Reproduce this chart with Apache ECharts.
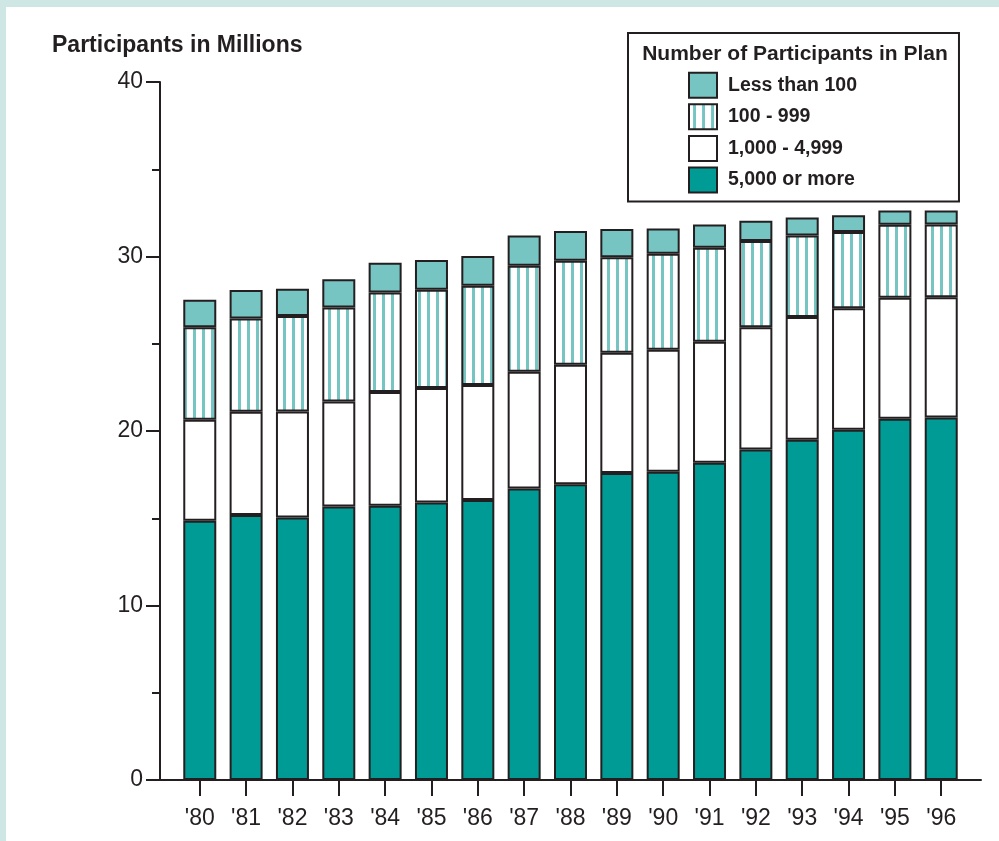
<!DOCTYPE html>
<html>
<head>
<meta charset="utf-8">
<script src="https://cdn.jsdelivr.net/npm/echarts@6/dist/echarts.min.js"></script>
<style>
html,body{margin:0;padding:0;background:#cfe7e4;}
#chart{width:999px;height:841px;}
</style>
</head>
<body>
<div id="chart"></div>
<script>
const yearLabels = ["'80","'81","'82","'83","'84","'85","'86","'87","'88","'89","'90","'91","'92","'93","'94","'95","'96"];
const seriesNames = ['Less than 100','100 - 999','1,000 - 4,999','5,000 or more'];
const large5000 = [14.85,15.19,15.04,15.67,15.71,15.90,16.04,16.70,16.95,17.60,17.66,18.18,18.94,19.50,20.07,20.70,20.78];
const mid1000 = [5.79,5.91,6.08,6.02,6.52,6.56,6.59,6.69,6.85,6.88,7.00,6.93,7.00,7.03,6.96,6.94,6.88];
const small100 = [5.30,5.35,5.47,5.39,5.71,5.64,5.70,6.08,5.96,5.47,5.50,5.39,4.95,4.68,4.37,4.18,4.18];
const under100 = [1.58,1.63,1.56,1.61,1.70,1.70,1.70,1.74,1.70,1.63,1.45,1.34,1.16,1.03,0.96,0.81,0.79];
const yTicks = [0,10,20,30,40];

const INK = '#231f20';
const DARK = '#009b94';
const LIGHT = '#76c5c2';
const FONT = "'Liberation Sans', Arial, Helvetica, sans-serif";

// vertical stripe pattern
const pc = document.createElement('canvas');
pc.width = 9; pc.height = 12;
const pctx = pc.getContext('2d');
pctx.fillStyle = '#ffffff'; pctx.fillRect(0,0,9,12);
pctx.fillStyle = LIGHT; pctx.fillRect(4,0,3,12);
const stripe = {image: pc, repeat: 'repeat'};

const chart = echarts.init(document.getElementById('chart'), null, {renderer:'canvas'});

function barSeries(name, data, color){
  return {
    name: name, type: 'bar', stack: 'total', xAxisIndex: 1, yAxisIndex: 1,
    barWidth: 33, data: data,
    itemStyle: {color: color, borderColor: INK, borderWidth: 2},
    emphasis: {disabled: true}
  };
}

chart.setOption({
  animation: false,
  backgroundColor: '#cfe7e4',
  textStyle: {fontFamily: FONT},
  graphic: [
    {type:'rect', z: -100, silent: true, shape:{x:6, y:7, width:993, height:834}, style:{fill:'#ffffff'}},
    {type:'text', z: 100, x: 795, y: 54, style:{text:'Number of Participants in Plan', fill: INK, font: "bold 21px " + FONT, textAlign:'center', textVerticalAlign:'middle'}}
  ],
  title: {
    text: 'Participants in Millions', left: 52, top: 34, padding: 0,
    textStyle: {fontFamily: FONT, fontSize: 23, fontWeight: 'bold', color: INK}
  },
  legend: {
    orient: 'vertical', left: 628, top: 33,
    padding: [38.7, 102, 8, 60],
    itemWidth: 28, itemHeight: 25, itemGap: 4.6,
    icon: 'rect',
    borderColor: INK, borderWidth: 2, backgroundColor: '#ffffff',
    data: seriesNames,
    selectedMode: false,
    itemStyle: {borderColor: INK, borderWidth: 2},
    textStyle: {fontFamily: FONT, fontSize: 19.5, fontWeight: 'bold', color: INK, padding: [0,0,0,6]}
  },
  grid: [
    {left: 160, right: 18, top: 82, bottom: 61},
    {left: 176.6, right: 34.6, top: 82, bottom: 61}
  ],
  xAxis: [
    {type:'value', gridIndex:0, min:0, max:1, axisLine:{show:true, lineStyle:{color:INK, width:2}}, axisTick:{show:false}, axisLabel:{show:false}, splitLine:{show:false}},
    {type:'category', gridIndex:1, data: yearLabels, axisLine:{show:false},
     axisTick:{show:true, alignWithLabel:true, length:16, lineStyle:{color:INK, width:2}},
     axisLabel:{fontFamily:FONT, fontSize:23, color:INK, margin:27}, splitLine:{show:false}}
  ],
  yAxis: [
    {type:'value', gridIndex:0, min:0, max:40, interval:10,
     axisLine:{show:true, lineStyle:{color:INK, width:2}},
     axisTick:{show:true, length:14, lineStyle:{color:INK, width:2}},
     minorTick:{show:true, splitNumber:2, length:8, lineStyle:{color:INK, width:2}},
     axisLabel:{fontFamily:FONT, fontSize:23, color:INK, margin:17,
       formatter: function(v){ return yTicks.indexOf(v) >= 0 ? String(v) : ''; }},
     splitLine:{show:false}},
    {type:'value', gridIndex:1, min:0, max:40, show:false}
  ],
  series: [
    barSeries(seriesNames[3], large5000, DARK),
    barSeries(seriesNames[2], mid1000, '#ffffff'),
    barSeries(seriesNames[1], small100, stripe),
    barSeries(seriesNames[0], under100, LIGHT)
  ]
});
</script>
</body>
</html>
